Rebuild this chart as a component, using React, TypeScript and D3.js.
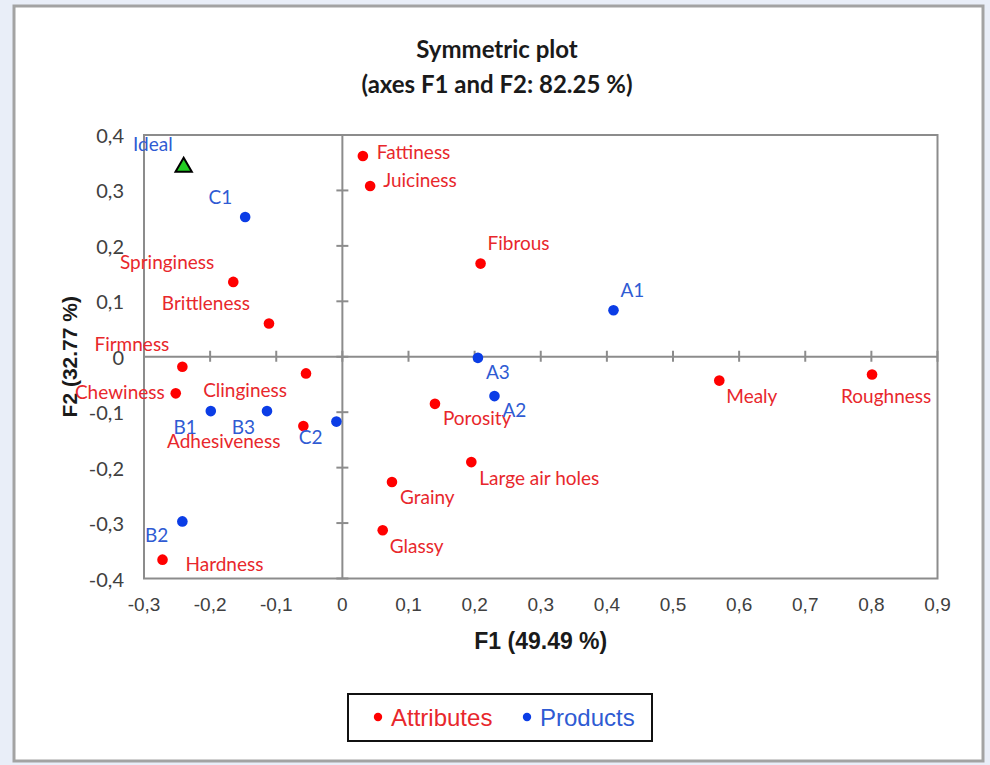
import React from 'react';
import * as d3 from 'd3';

// Symmetric plot (correspondence / PCA-like biplot)
const attributeNames = ['Fattiness', 'Juiciness', 'Fibrous', 'Springiness', 'Brittleness', 'Firmness', 'Chewiness', 'Clinginess',
  'Adhesiveness', 'Hardness', 'Porosity', 'Large air holes', 'Grainy', 'Glassy', 'Mealy', 'Roughness'];
const attributeF1 = [0.031, 0.042, 0.209, -0.165, -0.111, -0.242, -0.252, -0.055, -0.059, -0.272, 0.140, 0.195, 0.075, 0.061, 0.570, 0.801];
const attributeF2 = [0.362, 0.308, 0.168, 0.135, 0.060, -0.018, -0.066, -0.030, -0.125, -0.366, -0.085, -0.190, -0.226, -0.313, -0.043, -0.032];

const productNames = ['C1', 'A1', 'A3', 'A2', 'B1', 'B3', 'C2', 'B2'];
const productF1 = [-0.147, 0.410, 0.205, 0.230, -0.199, -0.114, -0.009, -0.242];
const productF2 = [0.252, 0.084, -0.002, -0.071, -0.098, -0.098, -0.117, -0.297];

const idealName = 'Ideal';
const idealF1 = -0.240;
const idealF2 = 0.342;

const xDomain = [-0.3, 0.9];
const yDomain = [-0.4, 0.4];

const titleLines = ['Symmetric plot', '(axes F1 and F2: 82.25 %)'];
const xTitle = 'F1 (49.49 %)';
const yTitle = 'F2 (32.77 %)';
const legendLabels = ['Attributes', 'Products'];

// label nudges [dx, dy, anchor] relative to the point
const attributeLabelPos: [number, number, string][] = [
  [14, -5, 'start'], [13, -7, 'start'], [7, -21, 'start'], [-19, -20, 'end'], [-19, -21, 'end'], [-13, -23, 'end'],
  [-11, -2, 'end'], [-19, 16, 'end'], [-23, 14, 'end'], [23, 4, 'start'], [8, 14, 'start'], [8, 15, 'start'],
  [8, 14, 'start'], [7, 15, 'start'], [7, 15, 'start'], [-31, 21, 'start'],
];
const productLabelPos: [number, number, string][] = [
  [-13, -21, 'end'], [7, -21, 'start'], [8, 14, 'start'], [8, 13, 'start'],
  [-14, 15, 'end'], [-12, 15, 'end'], [-14, 15, 'end'], [-14, 13, 'end'],
];
const idealLabelPos: [number, number, string] = [-11, -24, 'end'];

const W = 990;
const H = 765;
const plot = { left: 144, right: 937.5, top: 135, bottom: 578.5 };

const RED = '#ff0000';
const RED_TXT = '#e8272c';
const BLUE = '#0b3de6';
const BLUE_TXT = '#2f5bd3';
const AXIS = '#8c8c8c';
const TICK_TXT = '#404040';

const fmt = d3.formatLocale({ decimal: ',', thousands: '.', grouping: [3], currency: ['', ''], minus: '-' }).format('~g');

export default function App() {
  const x = d3.scaleLinear().domain(xDomain).range([plot.left, plot.right]);
  const y = d3.scaleLinear().domain(yDomain).range([plot.bottom, plot.top]);
  const xTicks = x.ticks(12);
  const yTicks = y.ticks(8);
  const x0 = x(0);
  const y0 = y(0);
  const tri = d3.symbol(d3.symbolTriangle, 115)() as string;
  const labelFont = 'Lato, "Open Sans", sans-serif';

  return (
    <div style={{ position: 'absolute', left: 0, top: 0 }}>
      <svg width={W} height={H} style={{ display: 'block' }}>
        <rect x={0} y={0} width={W} height={H} fill="#e9eef8" />
        <rect x={14} y={6} width={969} height={755} fill="#fff" stroke="#a3a3a3" strokeWidth={3} />

        {/* title */}
        {titleLines.map((t, i) => (
          <text key={t} x={497} y={48 + i * 35} textAnchor="middle" dominantBaseline="central"
            fontFamily={labelFont} fontWeight="bold" fontSize={24} fill="#1a1a1a">{t}</text>
        ))}

        {/* plot frame */}
        <rect x={plot.left} y={plot.top} width={plot.right - plot.left} height={plot.bottom - plot.top}
          fill="none" stroke={AXIS} strokeWidth={2} />

        {/* zero axes with crossing ticks */}
        <line x1={plot.left} x2={plot.right} y1={y0} y2={y0} stroke={AXIS} strokeWidth={2} />
        <line x1={x0} x2={x0} y1={plot.top} y2={plot.bottom} stroke={AXIS} strokeWidth={2} />
        {xTicks.map(t => (
          <line key={'xt' + t} x1={x(t)} x2={x(t)} y1={y0 - 6} y2={y0 + 5} stroke={AXIS} strokeWidth={2} />
        ))}
        {yTicks.map(t => (
          <line key={'yt' + t} x1={x0 - 6} x2={x0 + 6} y1={y(t)} y2={y(t)} stroke={AXIS} strokeWidth={2} />
        ))}

        {/* tick labels */}
        {xTicks.map(t => (
          <text key={'xl' + t} x={x(t)} y={604} textAnchor="middle" dominantBaseline="central"
            fontFamily='"Liberation Sans", Arial, sans-serif' fontSize={19} fill={TICK_TXT}>{fmt(t)}</text>
        ))}
        {yTicks.map(t => (
          <text key={'yl' + t} x={124} y={y(t)} textAnchor="end" dominantBaseline="central"
            fontFamily={labelFont} fontSize={20} fill={TICK_TXT}>{fmt(t)}</text>
        ))}

        {/* axis titles */}
        <text x={(plot.left + plot.right) / 2} y={641} textAnchor="middle" dominantBaseline="central"
          fontFamily='"Liberation Sans", Arial, sans-serif' fontWeight="bold" fontSize={23} fill="#1a1a1a">{xTitle}</text>
        <text transform={`translate(69,${(plot.top + plot.bottom) / 2}) rotate(-90)`} textAnchor="middle" dominantBaseline="central"
          fontFamily='"Liberation Sans", Arial, sans-serif' fontWeight="bold" fontSize={21} fill="#1a1a1a">{yTitle}</text>

        {/* attributes */}
        {attributeNames.map((name, i) => {
          const [dx, dy, anchor] = attributeLabelPos[i];
          const px = x(attributeF1[i]);
          const py = y(attributeF2[i]);
          return (
            <g key={name}>
              <circle cx={px} cy={py} r={5.3} fill={RED} />
              <text x={px + dx} y={py + dy} textAnchor={anchor} dominantBaseline="central"
                fontFamily={labelFont} fontSize={19} fill={RED_TXT}>{name}</text>
            </g>
          );
        })}

        {/* products */}
        {productNames.map((name, i) => {
          const [dx, dy, anchor] = productLabelPos[i];
          const px = x(productF1[i]);
          const py = y(productF2[i]);
          return (
            <g key={name}>
              <circle cx={px} cy={py} r={5.3} fill={BLUE} />
              <text x={px + dx} y={py + dy} textAnchor={anchor} dominantBaseline="central"
                fontFamily={labelFont} fontSize={19} fill={BLUE_TXT}>{name}</text>
            </g>
          );
        })}

        {/* ideal product */}
        <path d={tri} transform={`translate(${x(idealF1)},${y(idealF2)})`} fill="#22cc22" stroke="#000" strokeWidth={2} />
        <text x={x(idealF1) + idealLabelPos[0]} y={y(idealF2) + idealLabelPos[1]} textAnchor={idealLabelPos[2]}
          dominantBaseline="central" fontFamily={labelFont} fontSize={19} fill={BLUE_TXT}>{idealName}</text>

        {/* legend */}
        <rect x={348} y={694} width={304} height={47} fill="#fff" stroke="#111" strokeWidth={2} />
        <circle cx={378} cy={717} r={4.2} fill={RED} />
        <text x={391} y={717} dominantBaseline="central" fontFamily='"Liberation Sans", Arial, sans-serif'
          fontSize={24} fill={RED_TXT}>{legendLabels[0]}</text>
        <circle cx={527} cy={717} r={4.2} fill={BLUE} />
        <text x={540} y={717} dominantBaseline="central" fontFamily='"Liberation Sans", Arial, sans-serif'
          fontSize={24} fill={BLUE_TXT}>{legendLabels[1]}</text>
      </svg>
    </div>
  );
}
